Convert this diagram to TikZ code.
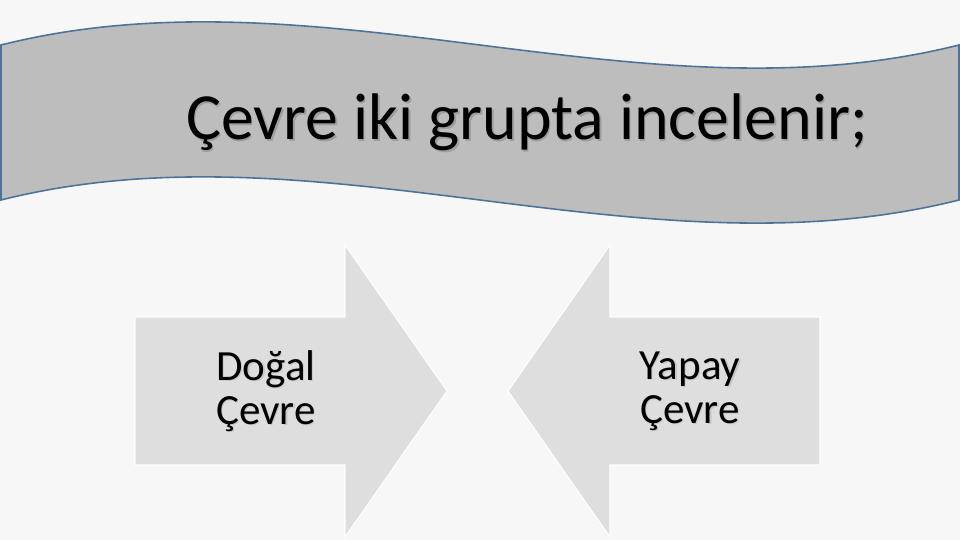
\documentclass[tikz,border=0pt]{standalone}
\usepackage{fontspec}
\setmainfont{Carlito}
\usepackage{xcolor}
\usepackage{tikz}
\usetikzlibrary{positioning, calc}

\definecolor{slidebg}{HTML}{F7F7F7}
\definecolor{bannerfill}{HTML}{BDBDBD}
\definecolor{bannerline}{HTML}{4E7399}
\definecolor{arrowfill}{HTML}{DEDEDE}

\begin{document}
\begin{tikzpicture}[
    banner/.style={fill=bannerfill, draw=bannerline, line width=0.9pt},
    bigarrow/.style={fill=arrowfill, draw=white, line width=0.6pt, line join=miter},
    title/.style={font=\fontsize{37.5}{45}\selectfont, anchor=base, inner sep=0pt},
    label/.style={font=\fontsize{24.5}{25}\selectfont, align=center, inner sep=0pt},
    shade/.style={text=black!22}
]
% Background of the slide
\fill[slidebg] (0,0) rectangle (19.2,10.8);
\useasboundingbox (0,0) rectangle (19.2,10.8);

% Wave banner at the top
\draw[banner] (0.02,9.9) .. controls (6.4,11.5) and (12.8,8.3) .. (19.18,9.9)
    -- (19.18,6.8) .. controls (12.8,5.2) and (6.4,8.4) .. (0.02,6.8) -- cycle;

% Title with its shadow
\node[title, shade, text=black!38] (titleshadow) at (10.57,7.97) {Çevre iki grupta incelenir;};
\node[title] (title) at (10.54,8.0) {Çevre iki grupta incelenir;};

% Left arrow (pointing right)
\draw[bigarrow] (2.7,4.46) -- (6.9,4.46) -- (6.9,5.9) -- (8.94,2.98)
    -- (6.9,0.06) -- (6.9,1.5) -- (2.7,1.5) -- cycle;

% Right arrow (pointing left)
\draw[bigarrow] (16.4,4.46) -- (12.2,4.46) -- (12.2,5.9) -- (10.16,2.98)
    -- (12.2,0.06) -- (12.2,1.5) -- (16.4,1.5) -- cycle;

% Arrow labels
\node[label, shade] (dogalshadow) at (5.345,2.955) {Doğal\\Çevre};
\node[label] (dogal) at (5.32,2.98) {Doğal\\Çevre};
\node[label, shade] (yapayshadow) at (13.825,2.955) {Yapay\\Çevre};
\node[label] (yapay) at (13.8,2.98) {Yapay\\Çevre};
\end{tikzpicture}
\end{document}
